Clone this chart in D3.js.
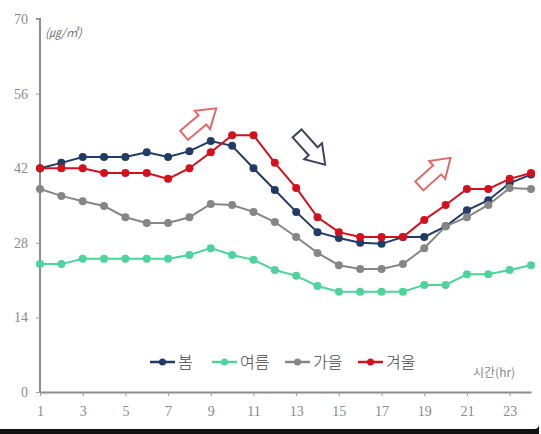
<!DOCTYPE html>
<html>
<head>
<meta charset="utf-8">
<script src="https://cdn.jsdelivr.net/npm/d3@7"></script>
<style>
  body { margin: 0; background: #fff; }
  svg { display: block; }
</style>
</head>
<body>
<div id="chart"></div>
<script>
var width = 541,
    height = 434;

var hours = d3.range(1, 25);
var xTicks = [1, 3, 5, 7, 9, 11, 13, 15, 17, 19, 21, 23];
var yTicks = [0, 14, 28, 42, 56, 70];

var seasons = ['봄', '여름', '가을', '겨울'];
var colors = ['#1f3b66', '#4fd39d', '#868686', '#d4101c'];

var spring = [42, 43, 44.1, 44.1, 44.1, 45, 44.1, 45.2, 47.1, 46.2, 42, 37.9, 33.8, 30, 28.9, 28, 27.8, 29.1, 29.1, 31.1, 34.1, 36, 39.2, 40.8];
var summer = [24, 24, 25, 25, 25, 25, 25, 25.7, 27, 25.7, 24.8, 22.9, 21.8, 19.9, 18.8, 18.8, 18.8, 18.8, 20.1, 20.1, 22.1, 22.1, 22.9, 23.8];
var autumn = [38.1, 36.8, 35.8, 34.9, 32.8, 31.7, 31.7, 32.8, 35.3, 35.1, 33.8, 31.9, 29.1, 26.1, 23.8, 23.1, 23.1, 24, 27, 31.1, 32.8, 35.1, 38.3, 38.1];
var winter = [42, 42, 42, 41.1, 41.1, 41.1, 40, 42, 45, 48.2, 48.2, 43, 38.3, 32.8, 30, 29.1, 29.1, 29.1, 32.3, 35.1, 38.1, 38.1, 40, 41.1];

var seriesValues = [spring, summer, autumn, winter];

// arrows: [hour, value, angle, colour]
var arrows = [
    [8.5, 50.7, -40, '#e06a6a'],
    [13.7, 45.6, 48, '#3c4656'],
    [19.5, 41.3, -42, '#e06a6a']
];

var svg = d3.select('#chart').append('svg')
    .attr('width', width)
    .attr('height', height);

var xScale = d3.scaleLinear()
    .domain([1, 24])
    .range([40, 531]);

var yScale = d3.scaleLinear()
    .domain([0, 70])
    .range([392, 19]);

// y axis
var yAxis = d3.axisLeft(yScale)
    .tickValues(yTicks)
    .tickSize(4)
    .tickPadding(8);

var gy = svg.append('g')
    .attr('transform', 'translate(40,0)')
    .call(yAxis);
gy.select('.domain').attr('stroke', '#8c8c8c').attr('stroke-width', 2).attr('d', 'M-4,19H0V392');
gy.selectAll('.tick line').attr('stroke', '#999');
gy.selectAll('.tick text')
    .attr('fill', '#8a8a8a')
    .attr('font-family', 'Liberation Serif')
    .attr('font-size', '14px');

// x axis
var xAxis = d3.axisBottom(xScale)
    .tickValues(xTicks)
    .tickSize(4)
    .tickPadding(10)
    .tickSizeOuter(0);

var gx = svg.append('g')
    .attr('transform', 'translate(0,392)')
    .call(xAxis);
gx.select('.domain').attr('stroke', '#8c8c8c').attr('stroke-width', 2);
gx.selectAll('.tick line').attr('stroke', '#999');
gx.selectAll('.tick text')
    .attr('fill', '#8a8a8a')
    .attr('font-family', 'Liberation Serif')
    .attr('font-size', '14px');

// unit label
svg.append('text')
    .attr('x', 45)
    .attr('y', 37)
    .attr('font-family', 'Noto Sans CJK KR')
    .attr('font-style', 'italic')
    .attr('font-size', '12px')
    .attr('fill', '#777')
    .text('(㎍/㎥)');

// lines
var line = d3.line()
    .x(function(d, i) { return xScale(hours[i]); })
    .y(function(d) { return yScale(d); });

seriesValues.forEach(function(vals, k) {
    svg.append('path')
        .datum(vals)
        .attr('d', line)
        .attr('fill', 'none')
        .attr('stroke', colors[k])
        .attr('stroke-width', 2);

    svg.selectAll('.dot' + k)
        .data(vals)
        .enter().append('circle')
        .attr('class', 'dot' + k)
        .attr('cx', function(d, i) { return xScale(hours[i]); })
        .attr('cy', function(d) { return yScale(d); })
        .attr('r', 4)
        .attr('fill', colors[k]);
});

// block arrows
var arrowShape = 'M-21,-6 L3,-6 L3,-12 L21,0 L3,12 L3,6 L-21,6 Z';
arrows.forEach(function(a) {
    svg.append('path')
        .attr('d', arrowShape)
        .attr('transform', 'translate(' + xScale(a[0]) + ',' + yScale(a[1]) + ') rotate(' + a[2] + ')')
        .attr('fill', 'white')
        .attr('stroke', a[3])
        .attr('stroke-width', 2);
});

// legend
var legendX = [150, 212, 285, 358];
var legend = svg.append('g');
seasons.forEach(function(s, k) {
    var g = legend.append('g').attr('transform', 'translate(' + legendX[k] + ',362)');
    g.append('line')
        .attr('x1', 0).attr('x2', 25)
        .attr('stroke', colors[k])
        .attr('stroke-width', 2.5);
    g.append('circle')
        .attr('cx', 12.5)
        .attr('r', 3.5)
        .attr('fill', colors[k]);
    g.append('text')
        .attr('x', 28)
        .attr('y', 6)
        .attr('font-family', 'Noto Sans CJK KR')
        .attr('font-weight', 300)
        .attr('font-size', '16px')
        .attr('fill', '#444')
        .text(s);
});

svg.append('text')
    .attr('x', 473)
    .attr('y', 377)
    .attr('font-family', 'Noto Sans CJK KR')
    .attr('font-size', '12px')
    .attr('fill', '#888')
    .text('시간(hr)');

// dark frame edge at the bottom
svg.append('path')
    .attr('d', 'M0,429 H534 Q539,429 539,424 V434 H0 Z')
    .attr('fill', '#111');
</script>
</body>
</html>
